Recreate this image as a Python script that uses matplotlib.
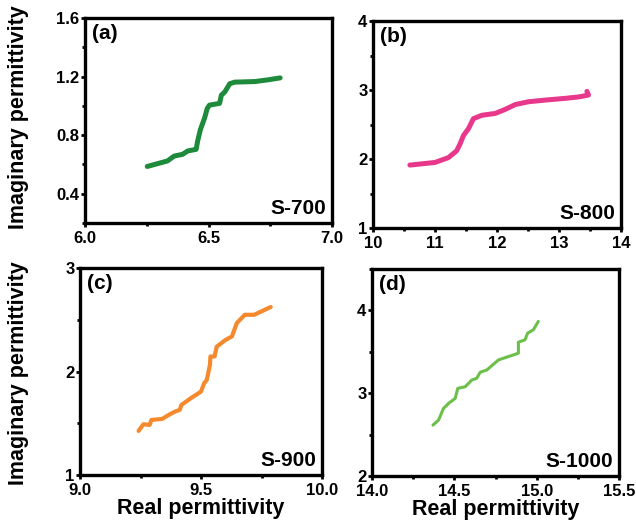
import numpy as np
import matplotlib
matplotlib.use("Agg")
import matplotlib.pyplot as plt
from matplotlib.ticker import MultipleLocator, FormatStrFormatter

plt.rcParams['font.family'] = ['Liberation Sans', 'DejaVu Sans']
plt.rcParams['font.weight'] = 'bold'

# (a) S-700
a_x = [6.252, 6.334, 6.361, 6.395, 6.416, 6.450, 6.456, 6.467, 6.484, 6.495, 6.504,
       6.545, 6.552, 6.566, 6.586, 6.606, 6.688, 6.742, 6.790]
a_y = [0.586, 0.624, 0.657, 0.669, 0.692, 0.703, 0.759, 0.837, 0.916, 0.983, 1.005,
       1.017, 1.073, 1.095, 1.151, 1.162, 1.166, 1.178, 1.191]
# (b) S-800
b_x = [10.595, 11.0, 11.216, 11.35, 11.405, 11.459, 11.54, 11.62, 11.757, 11.97,
       12.135, 12.297, 12.51, 12.78, 13.11, 13.32, 13.476, 13.45]
b_y = [1.912, 1.95, 2.02, 2.12, 2.22, 2.34, 2.44, 2.585, 2.634, 2.66,
       2.72, 2.79, 2.83, 2.854, 2.88, 2.90, 2.927, 2.98]
# (c) S-900
c_x = [9.242, 9.262, 9.288, 9.295, 9.340, 9.366, 9.393, 9.412, 9.419, 9.458, 9.5,
       9.513, 9.524, 9.537, 9.539, 9.556, 9.565, 9.602, 9.628, 9.648, 9.681, 9.72, 9.788]
c_y = [1.426, 1.49, 1.484, 1.532, 1.542, 1.58, 1.613, 1.629, 1.677, 1.742, 1.806,
       1.887, 1.919, 2.065, 2.145, 2.145, 2.24, 2.306, 2.339, 2.468, 2.548, 2.548, 2.623]
# (d) S-1000
d_x = [14.37, 14.404, 14.434, 14.465, 14.505, 14.521, 14.566, 14.606, 14.636, 14.657,
       14.697, 14.768, 14.889, 14.889, 14.929, 14.945, 14.98, 15.01]
d_y = [2.614, 2.675, 2.816, 2.877, 2.937, 3.059, 3.078, 3.159, 3.18, 3.253,
       3.28, 3.402, 3.483, 3.616, 3.645, 3.725, 3.766, 3.867]

panels = [
    # data, color, lw, xlim, ylim, xmaj, xmin, ymaj, ymin, fmt, tag, name, rect(px: l, t, r, b)
    (a_x, a_y, '#1e8b3c', 3.6, (6.0, 7.0), (0.2, 1.6), 0.5, 0.25, 0.4, 0.2, ('%.1f', '%.1f'), '(a)', 'S-700', (85, 18, 332, 223)),
    (b_x, b_y, '#e8388c', 3.6, (10, 14), (1, 4), 1, 0.5, 1, 0.5, ('%d', '%d'), '(b)', 'S-800', (373, 21, 621, 228)),
    (c_x, c_y, '#f5892e', 3.0, (9.0, 10.0), (1, 3), 0.5, 0.25, 1, 0.5, ('%.1f', '%d'), '(c)', 'S-900', (80, 268, 322, 475)),
    (d_x, d_y, '#6cc04a', 2.2, (14.0, 15.5), (2, 4.5), 0.5, 0.25, 1, 0.5, ('%.1f', '%d'), '(d)', 'S-1000', (372, 269, 619, 476)),
]

W, H = 636, 525
fig = plt.figure(figsize=(W / 100, H / 100), dpi=100)

axes = []
for (x, y, col, lw, xl, yl, xmaj, xmin, ymaj, ymin, fmt, tag, name, r) in panels:
    ax = fig.add_axes([r[0] / W, 1 - r[3] / H, (r[2] - r[0]) / W, (r[3] - r[1]) / H])
    ax.plot(x, y, color=col, lw=lw, solid_capstyle='round', solid_joinstyle='round')
    ax.set_xlim(*xl); ax.set_ylim(*yl)
    ax.xaxis.set_major_locator(MultipleLocator(xmaj)); ax.xaxis.set_minor_locator(MultipleLocator(xmin))
    ax.yaxis.set_major_locator(MultipleLocator(ymaj)); ax.yaxis.set_minor_locator(MultipleLocator(ymin))
    ax.xaxis.set_major_formatter(FormatStrFormatter(fmt[0]))
    ax.yaxis.set_major_formatter(FormatStrFormatter(fmt[1]))
    for s in ax.spines.values():
        s.set_linewidth(2.4)
    ax.tick_params(which='major', direction='out', length=3, width=2, labelsize=12, pad=1)
    ax.tick_params(axis='x', which='major', pad=3)
    ax.tick_params(which='minor', direction='out', length=2, width=2)
    ax.text(0.03, 0.97, tag, transform=ax.transAxes, ha='left', va='top', fontsize=15, fontweight='bold')
    ax.text(0.975, 0.025, name, transform=ax.transAxes, ha='right', va='bottom', fontsize=15, fontweight='bold')
    axes.append(ax)

# (a) has no tick label at the bottom 0.2
axes[0].set_yticks([0.4, 0.8, 1.2, 1.6])

fig.text(19 / W, 1 - 117 / H, 'Imaginary permittivity', rotation=90, ha='center', va='center',
         fontsize=15.5, fontweight='bold')
fig.text(19 / W, 1 - 373 / H, 'Imaginary permittivity', rotation=90, ha='center', va='center',
         fontsize=15.5, fontweight='bold')
axes[2].set_xlabel('Real permittivity', fontsize=15.5, fontweight='bold', labelpad=0)
axes[3].set_xlabel('Real permittivity', fontsize=15.5, fontweight='bold', labelpad=0)

fig.savefig('out.png', dpi=100)
